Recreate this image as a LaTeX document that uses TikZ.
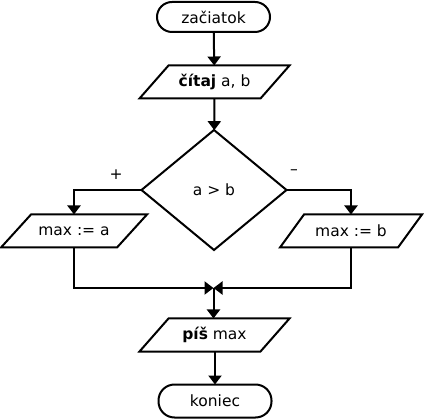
\documentclass[tikz,border=0pt]{standalone}
\usepackage{fontspec}
\setmainfont{DejaVu Sans}
\usetikzlibrary{arrows.meta,shapes.geometric}
\newcommand\drawpara[2]{\draw[edge] ([xshift=#2]#1.north west) -- ([xshift=#2]#1.north east) -- ([xshift=-#2]#1.south east) -- ([xshift=-#2]#1.south west) -- cycle;}
\tikzset{
  edge/.style={line width=2pt, line join=miter},
  arr/.style={line width=2pt, -{Triangle[width=13pt,length=9pt]}},
  term/.style={draw, line width=2pt, rectangle, rounded corners=15pt, minimum width=113pt, minimum height=30pt, inner sep=0pt, outer sep=0pt},
  paratext/.style={rectangle, inner sep=0pt, outer sep=0pt, minimum height=33pt},
  dec/.style={draw, line width=2pt, diamond, minimum width=145pt, minimum height=120pt, inner sep=0pt, outer sep=0pt},
  lbl/.style={inner sep=0pt},
}
\begin{document}
\begin{tikzpicture}[x=1pt,y=-1pt,font=\fontsize{15.5}{18}\selectfont]
\useasboundingbox (0,0) rectangle (428,419);
\node[term] (start) at (213.5,17) {začiatok};
\node[paratext, minimum width=121pt] (read) at (214.5,82) {\textbf{čítaj} a, b};
\drawpara{read}{14.5pt}
\node[dec] (cond) at (214,190) {a > b};
\node[paratext, minimum width=116pt] (ma) at (74,231) {max := a};
\drawpara{ma}{15pt}
\node[paratext, minimum width=118pt] (mb) at (351,231) {max := b};
\drawpara{mb}{12pt}
\coordinate (j) at (213.5,288);
\node[paratext, minimum width=121pt] (out) at (214.5,335) {\textbf{píš} max};
\drawpara{out}{14.5pt}
\node[term, minimum height=33pt, rounded corners=16pt] (stop) at (215,401) {koniec};
\node[lbl] (plus) at (116,175) {+};
\node[lbl] (minus) at (294,172) {–};
\draw[arr] (start) -- (read);
\draw[arr] (read) -- (cond);
\draw[arr] (cond.west) -| (ma.north);
\draw[arr] (cond.east) -| (mb.north);
\draw[arr] (ma.south) |- (j);
\draw[arr] (mb.south) |- (j);
\draw[arr] (j) -- (j |- out.north);
\draw[arr] (out.south -| stop.north) -- (stop.north);
\end{tikzpicture}
\end{document}
